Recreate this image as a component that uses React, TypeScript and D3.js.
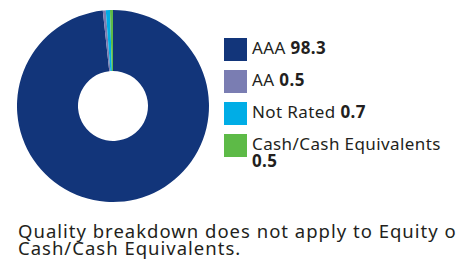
import React, { useEffect, useRef } from 'react';
import * as d3 from 'd3';

const ratings = ['AAA', 'AA', 'Not Rated', 'Cash/Cash Equivalents'];
const weights = [98.3, 0.5, 0.7, 0.5];
const colours = ['#12357a', '#7a7db2', '#00ade6', '#5dba47'];
const footnote = ['Quality breakdown does not apply to Equity or', 'Cash/Cash Equivalents.'];

const W = 456;
const H = 268;
const FONT = '"Noto Sans", sans-serif';

const drawChart = (svgEl: SVGSVGElement) => {
    const svg = d3.select(svgEl);
    svg.selectAll('*').remove();
    svg.attr('width', W).attr('height', H);

    const rows = ratings.map((r, i) => ({ label: r, value: weights[i], colour: colours[i] }));

    const pie = d3.pie<any>().sort(null).value(d => d.value);
    const arc = d3.arc<any>().innerRadius(35).outerRadius(96);

    const donut = svg.append('g').attr('transform', 'translate(113,106)');
    donut.selectAll('path')
        .data(pie(rows))
        .enter().append('path')
        .attr('d', arc)
        .attr('fill', d => d.data.colour);

    const y = d3.scaleBand().domain(ratings).range([38, 166]).paddingInner(0);
    const legend = svg.append('g')
        .attr('font-family', FONT).attr('font-size', 17)
        .attr('letter-spacing', 0.4).attr('fill', '#231f20');

    rows.forEach(d => {
        const top = y(d.label)!;
        legend.append('rect')
            .attr('x', 224).attr('y', top).attr('width', 23).attr('height', 23)
            .attr('fill', d.colour);
        const wrap = d.label.length > 15;
        const t = legend.append('text').attr('x', 252).attr('y', top + 16);
        t.append('tspan').text(d.label + ' ');
        if (wrap) {
            legend.append('text').attr('x', 252).attr('y', top + 33)
                .attr('font-weight', 'bold').text(d.value.toFixed(1));
        } else {
            t.append('tspan').attr('font-weight', 'bold').text(d.value.toFixed(1));
        }
    });

    const note = svg.append('g')
        .attr('font-family', FONT).attr('font-size', 18.5)
        .attr('letter-spacing', 1).attr('fill', '#231f20');
    footnote.forEach((line, i) => {
        note.append('text').attr('x', 18).attr('y', 237.5 + i * 17.5).text(line);
    });
};

const App = () => {
    const ref = useRef<SVGSVGElement>(null);
    useEffect(() => {
        if (ref.current) drawChart(ref.current);
    }, []);
    return (
        <div style={{ position: 'absolute', left: 0, top: 0, background: '#fff' }}>
            <svg ref={ref} style={{ display: 'block' }} />
        </div>
    );
};

export default App;
